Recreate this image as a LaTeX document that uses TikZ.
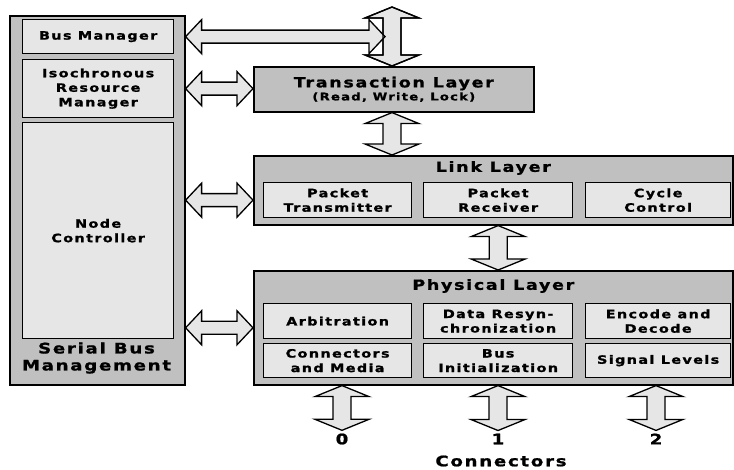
\documentclass[tikz,border=0pt]{standalone}
\usepackage{fontspec}
\setmainfont{DejaVu Sans}[FakeStretch=1.25,LetterSpace=12,BoldFeatures={FakeBold=1.2}]
\usetikzlibrary{calc}

\definecolor{panel}{HTML}{C0C0C0}
\definecolor{cellgray}{HTML}{E6E6E6}

\newcommand{\cellfont}{\fontsize{11.5}{14.5}\selectfont\bfseries}
\newcommand{\titlefont}{\fontsize{14}{16}\selectfont\bfseries}
\newcommand{\subfont}{\fontsize{10.5}{12}\selectfont\bfseries}
\newcommand{\bigfont}{\fontsize{14.5}{17}\selectfont\bfseries}

% horizontal and vertical block arrows, heads at both ends
\newcommand{\hfat}[3][fatarrow]{%
  \path[#1] let \p1=#2, \p2=#3 in
    (\x1,\y1) -- ++(16pt,17pt) -- ++(0pt,-10.5pt) -- (\x2-16pt,\y1+6.5pt) -- ++(0pt,10.5pt)
    -- (\x2,\y1) -- ++(-16pt,-17pt) -- ++(0pt,10.5pt) -- (\x1+16pt,\y1-6.5pt) -- ++(0pt,-10.5pt) -- cycle;}
\newcommand{\vfat}[3][fatarrow]{%
  \path[#1] let \p1=#2, \p2=#3 in
    (\x1,\y1) -- ++(27pt,-11pt) -- ++(-18pt,0pt) -- (\x1+9pt,\y2+11pt) -- ++(18pt,0pt)
    -- (\x1,\y2) -- ++(-27pt,11pt) -- ++(18pt,0pt) -- (\x1-9pt,\y1-11pt) -- ++(-18pt,0pt) -- cycle;}

\begin{document}
\begin{tikzpicture}[x=1pt,y=-1pt,
    outer/.style={draw,line width=1.6pt,fill=panel,anchor=north west,inner sep=0pt,align=center},
    cell/.style={draw,line width=1.3pt,fill=cellgray,anchor=north west,inner sep=0pt,align=center,font=\cellfont},
    titletext/.style={inner sep=0pt,font=\titlefont,align=center},
    fatarrow/.style={draw,line width=1.3pt,fill=cellgray,line join=miter},
    fatedge/.style={draw,line width=1.3pt,line join=miter}]
  \useasboundingbox[fill=white] (0,0) rectangle (734,470);

  % serial bus management
  \node[outer, minimum width=175pt, minimum height=369pt] (sbm) at (9,15) {};
  \node[cell, minimum width=151pt, minimum height=34pt] (bm) at (22,19) {Bus Manager};
  \node[cell, minimum width=151pt, minimum height=58pt] (irm) at (22,59) {Isochronous\\Resource\\Manager};
  \node[cell, minimum width=151pt, minimum height=216pt] (nc) at (22,122) {Node\\Controller};
  \node[titletext, font=\bigfont] (sbmtitle) at (96.5,358) {Serial Bus\\Management};

  % transaction layer
  \node[outer, minimum width=280pt, minimum height=45pt] (tl) at (253,66)
    {\titlefont Transaction Layer\\[1pt]\subfont (Read, Write, Lock)};

  % link layer
  \node[outer, minimum width=479pt, minimum height=69pt] (ll) at (253,155) {};
  \node[titletext] (lltitle) at ([yshift=-13pt]ll.north) {Link Layer};
  \node[cell, minimum width=148pt, minimum height=35pt] (pt) at (263,182) {Packet\\Transmitter};
  \node[cell, minimum width=149pt, minimum height=35pt] (pr) at (423,182) {Packet\\Receiver};
  \node[cell, minimum width=145pt, minimum height=35pt] (cc) at (585,182) {Cycle\\Control};

  % physical layer
  \node[outer, minimum width=479pt, minimum height=114pt] (pl) at (253,270) {};
  \node[titletext] (pltitle) at ([yshift=-16pt]pl.north) {Physical Layer};
  \node[cell, minimum width=148pt, minimum height=35pt] (arb) at (263,303) {Arbitration};
  \node[cell, minimum width=149pt, minimum height=35pt] (drs) at (423,303) {Data Resyn-\\chronization};
  \node[cell, minimum width=145pt, minimum height=35pt] (enc) at (585,303) {Encode and\\Decode};
  \node[cell, minimum width=148pt, minimum height=34pt] (cm) at (263,343) {Connectors\\and Media};
  \node[cell, minimum width=149pt, minimum height=34pt] (bi) at (423,343) {Bus\\Initialization};
  \node[cell, minimum width=145pt, minimum height=34pt] (sl) at (585,343) {Signal Levels};

  % connectors
  \node[titletext, font=\bigfont] (n0) at (342,439) {0};
  \node[titletext, font=\bigfont] (n1) at (498,439) {1};
  \node[titletext, font=\bigfont] (n2) at (656,439) {2};
  \node[titletext, font=\bigfont] (conn) at (501,461) {Connectors};

  % block arrows
  \coordinate (bus) at (392,7);
  \coordinate (bmend) at (385,36);
  \vfat{(bus)}{(bus |- tl.north)}
  \hfat{(sbm.east |- bm.east)}{(bmend)}
  \vfat[fatedge]{(bus)}{(bus |- tl.north)}
  \hfat{(sbm.east |- irm.east)}{(tl.west |- irm.east)}
  \hfat{(sbm.east |- pt.west)}{(ll.west |- pt.west)}
  \hfat{(sbm.east |- pl.west)}{(pl.west)}
  \vfat{(bus |- tl.south)}{(bus |- ll.north)}
  \vfat{(pr.south |- ll.south)}{(pr.south |- pl.north)}
  \vfat{(n0 |- pl.south)}{([yshift=3pt]n0.north)}
  \vfat{(n1 |- pl.south)}{([yshift=3pt]n1.north)}
  \vfat{(n2 |- pl.south)}{([yshift=3pt]n2.north)}
\end{tikzpicture}
\end{document}
